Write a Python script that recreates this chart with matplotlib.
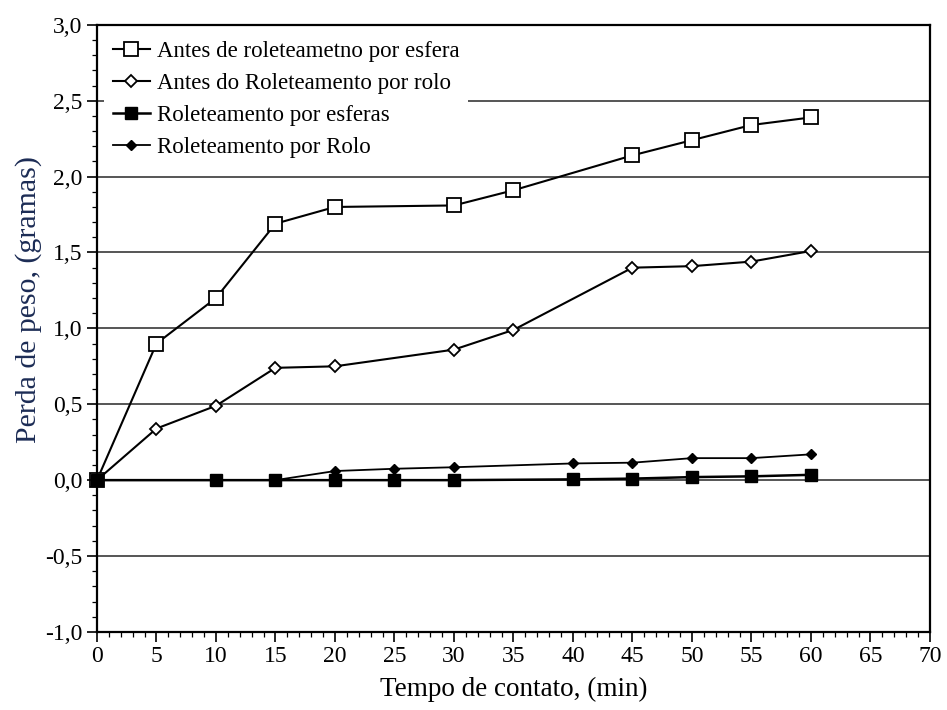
import matplotlib.pyplot as plt
from matplotlib.ticker import MultipleLocator, FuncFormatter

# time (min) and weight loss (g)
t_esfera_antes = [0, 5, 10, 15, 20, 30, 35, 45, 50, 55, 60]
p_esfera_antes = [0.0, 0.90, 1.20, 1.69, 1.80, 1.81, 1.91, 2.14, 2.24, 2.34, 2.39]

t_rolo_antes = [0, 5, 10, 15, 20, 30, 35, 45, 50, 55, 60]
p_rolo_antes = [0.0, 0.34, 0.49, 0.74, 0.75, 0.86, 0.99, 1.40, 1.41, 1.44, 1.51]

t_esferas = [0, 10, 15, 20, 25, 30, 40, 45, 50, 55, 60]
p_esferas = [0.0, 0.0, 0.0, 0.0, 0.0, 0.0, 0.005, 0.01, 0.02, 0.025, 0.035]

t_rolo = [0, 10, 15, 20, 25, 30, 40, 45, 50, 55, 60]
p_rolo = [0.0, 0.0, 0.0, 0.06, 0.075, 0.085, 0.11, 0.115, 0.145, 0.145, 0.17]

labels = ["Antes de roleteametno por esfera", "Antes do Roleteamento por rolo",
          "Roleteamento por esferas", "Roleteamento por Rolo"]

plt.rcParams["font.family"] = ["Liberation Serif", "DejaVu Serif"]

fig = plt.figure(figsize=(9.47, 7.1), dpi=100)
ax = fig.add_axes([0.1024, 0.110, 0.8796, 0.855])

ax.plot(t_esfera_antes, p_esfera_antes, color="black", lw=1.5, marker="s", ms=9.5,
        mfc="white", mec="black", mew=1.3, label=labels[0], zorder=4, clip_on=False)
ax.plot(t_rolo_antes, p_rolo_antes, color="black", lw=1.5, marker="D", ms=6.5,
        mfc="white", mec="black", mew=1.3, label=labels[1], zorder=4, clip_on=False)
ax.plot(t_esferas, p_esferas, color="black", lw=1.8, marker="s", ms=8.5,
        mfc="black", mec="black", label=labels[2], zorder=6, clip_on=False)
ax.plot(t_rolo, p_rolo, color="black", lw=1.3, marker="D", ms=5,
        mfc="black", mec="black", label=labels[3], zorder=5, clip_on=False)

ax.set_xlim(0, 70)
ax.set_ylim(-1.0, 3.0)
ax.xaxis.set_major_locator(MultipleLocator(5))
ax.xaxis.set_minor_locator(MultipleLocator(1))
ax.yaxis.set_major_locator(MultipleLocator(0.5))
ax.yaxis.set_minor_locator(MultipleLocator(0.1))
ax.yaxis.set_major_formatter(FuncFormatter(lambda v, _: f"{v:.1f}".replace(".", ",")))

ax.grid(axis="y", which="major", color="#555555", lw=1.4)
ax.set_axisbelow(True)
for s in ax.spines.values():
    s.set_linewidth(1.6)
ax.tick_params(which="major", direction="out", length=7, width=1.2, labelsize=17)
ax.tick_params(which="minor", direction="out", length=3.5, width=0.9)

ax.set_xlabel("Tempo de contato, (min)", fontsize=19.5, labelpad=7)
ax.set_ylabel("Perda de peso, (gramas)", fontsize=21.5, color="#1c2c55")
ax.yaxis.set_label_coords(-0.066, 0.548)

leg = ax.legend(loc="upper left", bbox_to_anchor=(0.0, 1.0), frameon=True,
                fontsize=16.5, handlelength=1.6, handletextpad=0.3,
                labelspacing=0.48, borderaxespad=0.3)
leg.get_frame().set_edgecolor("none")
leg.get_frame().set_facecolor("white")
leg.get_frame().set_alpha(1.0)

fig.savefig("out.png", dpi=100, facecolor="white")
